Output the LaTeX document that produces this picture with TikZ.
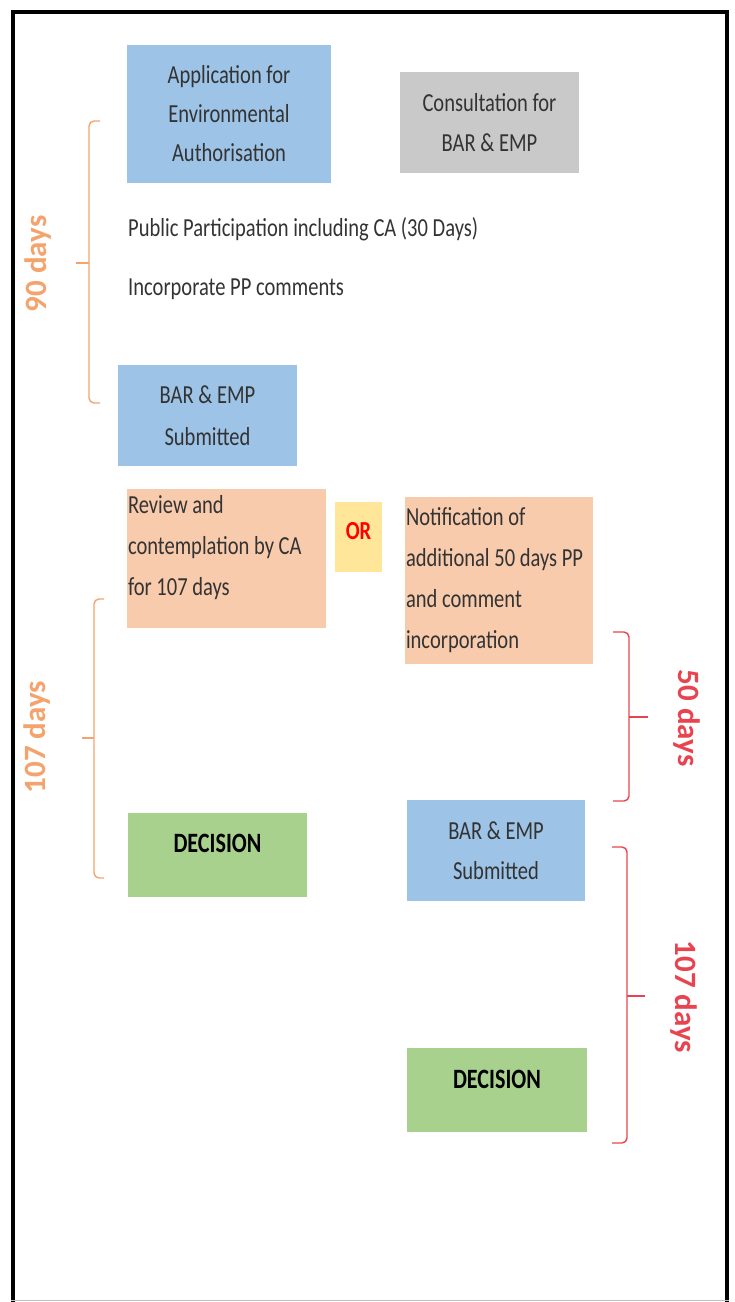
\documentclass[tikz,border=0pt]{standalone}
\usepackage{fontspec}
\setmainfont{Carlito}[FakeStretch=0.79]
\newfontfamily\daysfont{Carlito}
\usetikzlibrary{positioning}

\definecolor{eablue}{HTML}{9DC3E6}
\definecolor{eagrey}{HTML}{C9C9C9}
\definecolor{eapeach}{HTML}{F8CBAD}
\definecolor{eayellow}{HTML}{FFE699}
\definecolor{eagreen}{HTML}{A9D18E}
\definecolor{eaorange}{HTML}{F5A36C}
\definecolor{eared}{HTML}{E8434F}
\definecolor{eatext}{HTML}{333333}

\tikzset{
    stage/.style={rectangle, inner sep=0pt, text=eatext, align=center, font=\fontsize{26}{40}\selectfont},
    bluebox/.style={stage, fill=eablue, minimum width=179, minimum height=101},
    peachbox/.style={stage, fill=eapeach, align=flush left, inner xsep=1pt, font=\fontsize{26}{41}\selectfont},
    decisionbox/.style={stage, fill=eagreen, minimum width=179, minimum height=84, text=black,
        font=\fontsize{28}{28}\selectfont\bfseries, text height=18, text depth=22},
    bracketline/.style={line width=1.4pt, rounded corners=5pt},
    dayslabel/.style={font=\daysfont\bfseries\fontsize{31}{31}\selectfont}
}

\begin{document}
\begin{tikzpicture}[x=1pt, y=-1pt]
    \useasboundingbox (0,0) rectangle (735,1302);

    % frame
    \draw[line width=4pt] (13,1302) -- (13,12) -- (727,12) -- (727,1302);
    \draw[black!25, line width=1pt] (11,1300.5) -- (729,1300.5);

    % first phase
    \node[stage, fill=eablue, minimum width=204, minimum height=138, font=\fontsize{26}{39}\selectfont]
        (apply) at (229,114) {Application for\\Environmental\\Authorisation};
    \node[stage, fill=eagrey, minimum width=179, minimum height=101]
        (consult) at (489.5,122.5) {Consultation for\\BAR \& EMP};

    \node[stage, anchor=west] (pubpart) at (128,229) {Public Participation including CA (30 Days)};
    \node[stage, anchor=west] (incorp) at (128,289) {Incorporate PP comments};

    \node[bluebox, font=\fontsize{26}{42}\selectfont] (submitA) at (207.5,415.5) {BAR \& EMP\\Submitted};

    \draw[bracketline, eaorange] (100,121) -- (89,121) -- (89,403) -- (100,403);
    \draw[bracketline, eaorange] (89,263) -- (76,263);
    \node[dayslabel, text=eaorange, rotate=90] (days90) at (38,264) {90 days};

    % the two routes
    \node[peachbox, text width=197, minimum height=139, text depth=108]
        (review) at (226.5,558.5) {Review and\\contemplation by CA\\for 107 days};
    \node[stage, fill=eayellow, minimum width=47, minimum height=70, text=red,
        font=\fontsize{26}{26}\selectfont\bfseries, text height=17, text depth=12]
        (or) at (358.5,537) {OR};
    \node[peachbox, text width=186, minimum height=167]
        (notify) at (499,580.5) {Notification of\\additional 50 days PP\\and comment\\incorporation};

    \node[decisionbox] (decideA) at (217.5,854.5) {DECISION};

    \draw[bracketline, eaorange] (104,599) -- (94,599) -- (94,878) -- (104,878);
    \draw[bracketline, eaorange] (94,738) -- (82,738);
    \node[dayslabel, text=eaorange, rotate=90] (days107A) at (37,737) {107 days};

    % second route
    \node[bluebox, minimum width=178, font=\fontsize{26}{40}\selectfont] (submitB) at (496,850.5) {BAR \& EMP\\Submitted};
    \node[decisionbox, minimum width=180] (decideB) at (497,1090) {DECISION};

    \draw[bracketline, eared] (613,632) -- (629,632) -- (629,801) -- (613,801);
    \draw[bracketline, eared] (629,717) -- (648,717);
    \node[dayslabel, text=eared, rotate=-90] (days50) at (687,718) {50 days};

    \draw[bracketline, eared] (612,847) -- (627,847) -- (627,1143) -- (612,1143);
    \draw[bracketline, eared] (627,996) -- (645,996);
    \node[dayslabel, text=eared, rotate=-90] (days107B) at (684,997) {107 days};
\end{tikzpicture}
\end{document}
